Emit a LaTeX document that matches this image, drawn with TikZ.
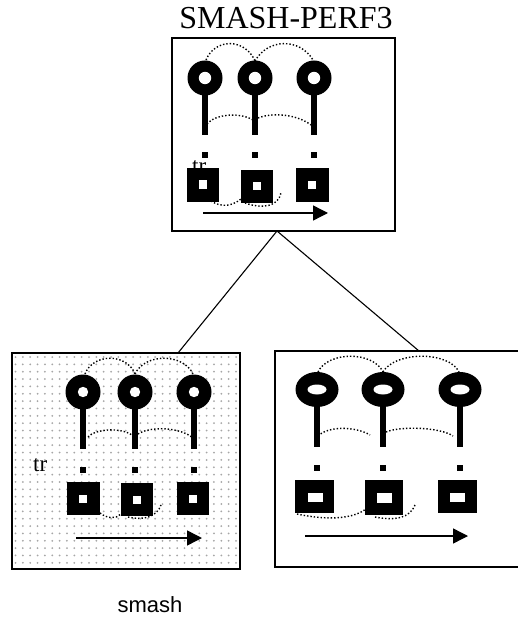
\documentclass[tikz,border=0pt]{standalone}
\usepackage{fontspec}
\setmainfont{Liberation Serif}
\newfontfamily\arialf{Liberation Sans}
\usetikzlibrary{arrows.meta}
\begin{document}
\begin{tikzpicture}[x=1pt,y=-1pt,
  panel/.style={draw, line width=1.3pt, inner sep=0pt, outer sep=0pt, anchor=north west},
  conn/.style={line width=1.1pt},
  dotl/.style={line width=1.4pt, dash pattern=on 1.4pt off 2pt},
  flow/.style={line width=1.4pt, -{Triangle[length=15pt,width=15pt]}},
  hole/.style={fill=white}]
\useasboundingbox (0,0) rectangle (518,617);

% panels
\node[panel, fill=white, minimum width=223pt, minimum height=193pt] (top) at (172,38) {};
\node[panel, fill=white, minimum width=228pt, minimum height=216pt] (left) at (12,353) {};
\node[panel, fill=white, minimum width=244pt, minimum height=216pt] (right) at (275,351) {};

% dotted background of left panel
\begin{scope}
  \clip (13,354) rectangle (239,568);
  \foreach \i in {0,...,31} {
    \foreach \j in {0,...,29} {
      \fill[gray!70] ({15.5+7.35*\i},{357+7.35*\j}) circle (1pt);
    }
  }
\end{scope}
\node[panel, minimum width=228pt, minimum height=216pt] at (12,353) {};

% title and labels
\node[anchor=base, font=\fontsize{32}{36}\selectfont, inner sep=0pt] (title) at (286,29) {SMASH-PERF3};
\node[anchor=base, font=\arialf\fontsize{22}{26}\selectfont, inner sep=0pt] (lab) at (150,612) {smash};

% connectors
\coordinate (apex) at (277,231);
\coordinate (lt) at (178,353);
\coordinate (rt) at (419,351);
\draw[conn] (apex) -- (lt);
\draw[conn] (apex) -- (rt);

% ---------- top panel ----------
\draw[dotl] (206,60) .. controls (215,38) and (245,38) .. (255,61);
\draw[dotl] (255,61) .. controls (268,38) and (300,38) .. (313,60);
\draw[dotl] (207,124) .. controls (215,114) and (240,112) .. (253,120);
\draw[dotl] (258,118) .. controls (270,113) and (295,113) .. (311,125);
\draw[dotl] (211,201) .. controls (222,208) and (232,206) .. (241,199);
\draw[dotl] (245,203) .. controls (262,209) and (279,207) .. (281,192);
\foreach \x in {205,255,314} {
  \fill ({\x-3},90) rectangle ({\x+3},135);
  \fill (\x,78) circle (17.5pt);
  \fill[hole] (\x,78) circle (6.2pt);
  \fill ({\x-3},152) rectangle ({\x+3},158);
}
\node[anchor=base west, inner sep=0pt, font=\fontsize{23}{26}\selectfont] (trA) at (192,174) {tr};
\fill (187,168) rectangle (219,202);
\fill (241,170) rectangle (273,203);
\fill (296,168) rectangle (329,202);
\fill[hole] (199,180) rectangle (207,189);
\fill[hole] (253,182) rectangle (261,190);
\fill[hole] (308,181) rectangle (316,189);
\coordinate (a1) at (203,213);
\coordinate (a2) at (328,213);
\draw[flow] (a1) -- (a2);

% ---------- left panel ----------
\draw[dotl] (85,374) .. controls (93,353) and (127,353) .. (135,374);
\draw[dotl] (135,374) .. controls (145,353) and (183,353) .. (193,374);
\draw[dotl] (88,437) .. controls (95,429) and (120,427) .. (132,435);
\draw[dotl] (138,434) .. controls (150,426) and (180,427) .. (193,438);
\draw[dotl] (100,513) .. controls (108,519) and (116,519) .. (121,514);
\draw[dotl] (128,517) .. controls (145,521) and (157,516) .. (161,505);
\foreach \x in {83,135,194} {
  \fill ({\x-3},405) rectangle ({\x+3},449);
  \fill (\x,392) circle (17.5pt);
  \fill[hole] (\x,392) circle (5.2pt);
  \fill ({\x-3},467) rectangle ({\x+3},473);
}
\fill (67,482) rectangle (100,515);
\fill (121,483) rectangle (153,516);
\fill (177,482) rectangle (209,515);
\fill[hole] (79,495) rectangle (87,503);
\fill[hole] (133,496) rectangle (141,504);
\fill[hole] (189,495) rectangle (197,503);
\node[anchor=base west, inner sep=0pt, font=\fontsize{23}{26}\selectfont] (trB) at (33,471) {tr};
\coordinate (b1) at (76,538);
\coordinate (b2) at (202,538);
\draw[flow] (b1) -- (b2);

% ---------- right panel ----------
\draw[dotl] (318,372) .. controls (328,351) and (373,351) .. (383,372);
\draw[dotl] (383,372) .. controls (395,351) and (449,351) .. (459,372);
\draw[dotl] (318,436) .. controls (328,426) and (355,426) .. (370,435);
\draw[dotl] (386,432) .. controls (400,426) and (440,427) .. (453,436);
\draw[dotl] (297,514) .. controls (320,519) and (350,521) .. (366,509);
\draw[dotl] (375,517) .. controls (395,521) and (410,518) .. (415,505);
\foreach \x in {317,383,460} {
  \fill ({\x-3},400) rectangle ({\x+3},447);
  \fill (\x,389.5) ellipse [x radius=21.5pt, y radius=17.5pt];
  \fill[hole] (\x,389.5) ellipse [x radius=9.5pt, y radius=5pt];
  \fill ({\x-3},465) rectangle ({\x+3},471);
}
\fill (295,480) rectangle (334,513);
\fill (365,480) rectangle (403,515);
\fill (438,480) rectangle (477,513);
\fill[hole] (308,493) rectangle (323,502);
\fill[hole] (377,493) rectangle (392,503);
\fill[hole] (450,493) rectangle (465,502);
\coordinate (c1) at (305,536);
\coordinate (c2) at (468,536);
\draw[flow] (c1) -- (c2);
\end{tikzpicture}
\end{document}
